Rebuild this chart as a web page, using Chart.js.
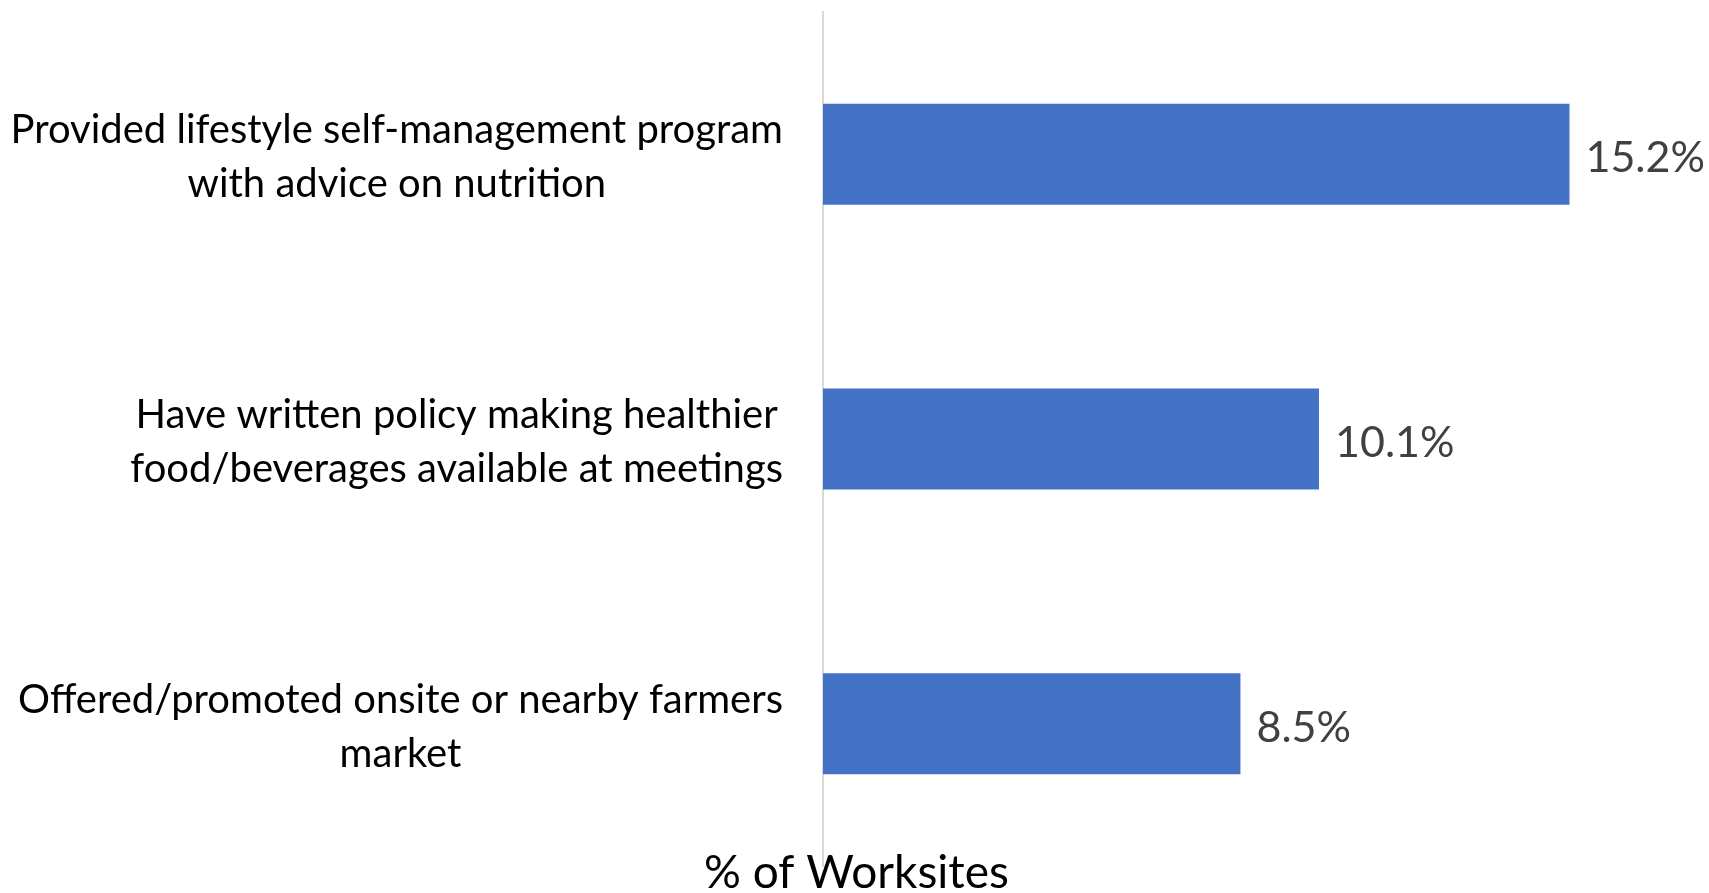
<!DOCTYPE html>
<html>
<head>
<meta charset="utf-8">
<script src="https://cdn.jsdelivr.net/npm/chart.js@4"></script>
<style>
  html, body {
    margin: 0;
    padding: 0;
    background: #ffffff;
  }

  #wrap {
    width: 1709px;
    height: 893px;
  }
</style>
</head>
<body>
<div id="wrap">
  <canvas id="chart"></canvas>
</div>

<script>

const categories = [
  ["Provided lifestyle self-management program", "with advice on nutrition"],
  ["Have written policy making healthier", "food/beverages available at meetings"],
  ["Offered/promoted onsite or nearby farmers", "market"]
];

const worksites =
  [15.2, 10.1, 8.5];

const axisTitle =
  "% of Worksites";

const fontFamily =
  "Lato, 'Open Sans', sans-serif";

// draws the wrapped category labels (lines centred inside each block),
// the value labels and the bottom title
const labelPlugin = {

  id: "labelPlugin",

  afterDatasetsDraw(chart) {

    const ctx =
      chart.ctx;

    const yScale =
      chart.scales.y;

    const area =
      chart.chartArea;

    ctx.save();

    // category labels
    ctx.font = "40px " + fontFamily;
    ctx.fillStyle = "#000000";
    ctx.textAlign = "center";
    ctx.textBaseline = "middle";

    const lineHeight = 54;

    categories.forEach((lines, i) => {

      const y =
        yScale.getPixelForValue(i) + 3;

      let widest = 0;

      lines.forEach(line => {
        widest = Math.max(widest, ctx.measureText(line).width);
      });

      const centerX =
        area.left - 40 - widest / 2;

      const startY =
        y - (lines.length - 1) * lineHeight / 2;

      lines.forEach((line, j) => {
        ctx.fillText(line, centerX, startY + j * lineHeight);
      });
    });

    // value labels
    const meta =
      chart.getDatasetMeta(0);

    ctx.font = "43px " + fontFamily;
    ctx.fillStyle = "#404040";
    ctx.textAlign = "left";

    meta.data.forEach((bar, i) => {
      ctx.fillText(worksites[i].toFixed(1) + "%", bar.x + 16, bar.y + 4);
    });

    // bottom title
    ctx.font = "46px " + fontFamily;
    ctx.fillStyle = "#000000";
    ctx.textAlign = "center";
    ctx.textBaseline = "alphabetic";

    ctx.fillText(axisTitle, chart.width / 2 + 2, 888);

    ctx.restore();
  }
};

function createChart() {

  const ctx =
    document.getElementById("chart");

  new Chart(ctx, {

    type: "bar",

    data: {

      labels: categories,

      datasets: [{
        label: axisTitle,
        data: worksites,
        backgroundColor: "#4472C4",
        borderWidth: 0,
        barPercentage: 1,
        categoryPercentage: 0.355
      }]
    },

    options: {

      indexAxis: "y",
      responsive: true,
      maintainAspectRatio: false,
      animation: false,

      layout: {
        padding: { top: 12, right: 2, bottom: 27, left: 0 }
      },

      plugins: {
        legend: { display: false },
        tooltip: { enabled: false }
      },

      scales: {

        x: {
          display: false,
          min: 0,
          max: 18
        },

        y: {
          ticks: { display: false },
          grid: { display: false },
          border: {
            display: true,
            color: "#D9D9D9",
            width: 2
          },
          afterFit(scale) {
            scale.width = 823;
          }
        }
      }
    },

    plugins: [labelPlugin]
  });
}

createChart();

</script>
</body>
</html>
